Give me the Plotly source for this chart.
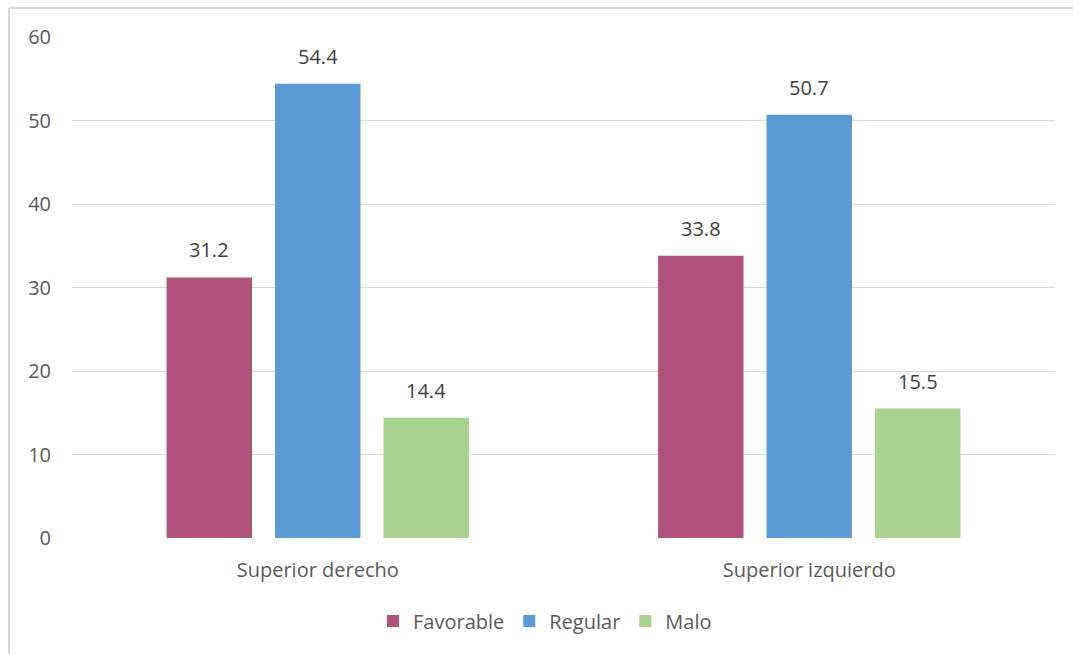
import plotly.graph_objects as go

categories = ["Superior derecho", "Superior izquierdo"]
series_names = ["Favorable", "Regular", "Malo"]
favorable = [31.2, 33.8]
regular = [54.4, 50.7]
malo = [14.4, 15.5]
colors = ["#B0527B", "#5B9BD5", "#A9D18E"]
y_ticks = [0, 10, 20, 30, 40, 50, 60]

FONT = "Open Sans"
TXT = "#595959"
FS = 20

W, H = 1073, 654
L, R, T, B = 72, 18, 37, 116
pw, ph = W - L - R, H - T - B
BARGAP, GROUPGAP = 0.338, 0.212
slot_px = pw / len(categories) * (1 - BARGAP) / len(series_names)

fig = go.Figure()
for k, (name, vals, col) in enumerate(zip(series_names, [favorable, regular, malo], colors)):
    fig.add_trace(go.Bar(
        x=categories, y=vals, name=name, marker=dict(color=col, line=dict(width=0)),
    ))
    for c, v in zip(categories, vals):
        fig.add_annotation(x=c, y=v, text=f"{v:.1f}", showarrow=False,
                           xref="x", yref="y", yanchor="bottom",
                           xshift=(k - 1) * slot_px, yshift=12,
                           font=dict(family=FONT, size=FS, color="#404040"))

fig.update_layout(
    width=W, height=H,
    margin=dict(l=L, r=R, t=T, b=B, pad=0),
    paper_bgcolor="white", plot_bgcolor="white",
    barmode="group", bargap=BARGAP, bargroupgap=GROUPGAP,
    font=dict(family=FONT, size=FS, color=TXT),
    showlegend=True,
    legend=dict(orientation="h", x=(545 - L) / pw, xanchor="center",
                y=-(621 - (T + ph)) / ph, yanchor="middle",
                font=dict(family=FONT, size=FS, color=TXT),
                itemwidth=30, traceorder="normal"),
    xaxis=dict(showgrid=False, showline=False, ticks="", tickfont=dict(size=FS, color=TXT),
               ticklabelstandoff=18),
    yaxis=dict(range=[0, 60], tickvals=y_ticks, showgrid=True, gridcolor="#D9D9D9",
               gridwidth=1.3, zeroline=False, showline=False, ticks="",
               tickfont=dict(size=FS, color=TXT), ticklabelstandoff=20),
)
# chart frame (partially visible border)
fig.add_shape(type="line", xref="paper", yref="paper",
              x0=(9 - L) / pw, x1=1.1, y0=(T + ph - 8) / ph, y1=(T + ph - 8) / ph,
              line=dict(color="#D9D9D9", width=2))
fig.add_shape(type="line", xref="paper", yref="paper",
              x0=(9 - L) / pw, x1=(9 - L) / pw, y0=(T + ph - 8) / ph, y1=-0.5,
              line=dict(color="#D9D9D9", width=2))

fig.write_html("out.html")
